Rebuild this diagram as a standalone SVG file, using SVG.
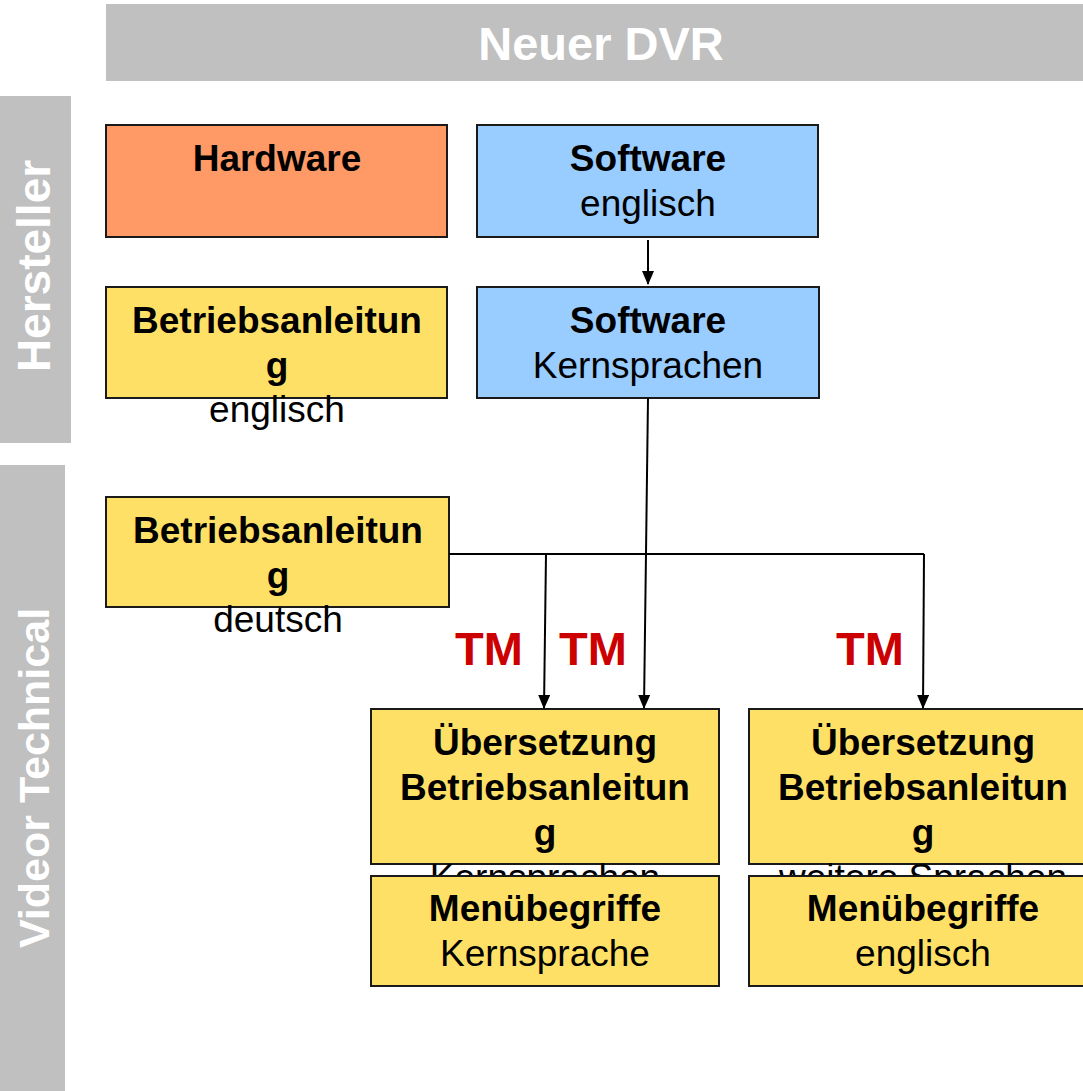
<svg xmlns="http://www.w3.org/2000/svg" width="1083" height="1091" viewBox="0 0 1083 1091">
<defs>
<style>
.band{fill:#c0c0c0}
.bandtxt{font-family:"Liberation Sans",Arial,sans-serif;font-weight:bold;fill:#ffffff;text-anchor:middle}
.box{stroke:#1a1a1a;stroke-width:2}
.orange{fill:#ff9966}
.blue{fill:#99ccff}
.yellow{fill:#ffe066}
.t{font-family:"Liberation Sans",Arial,sans-serif;font-size:37px;fill:#000;text-anchor:middle}
.b{font-weight:bold}
.tm{font-family:"Liberation Sans",Arial,sans-serif;font-size:47px;font-weight:bold;fill:#cc0000}
.conn{stroke:#000;stroke-width:2;fill:none}
</style>
<marker id="arrd" markerWidth="14" markerHeight="12" refX="13" refY="6" orient="auto" markerUnits="userSpaceOnUse" viewBox="0 0 14 12">
<path d="M0,0 L14,6 L0,12 Z" fill="#000"/>
</marker>
</defs>

<g id="header">
<rect class="band" x="106" y="4" width="977" height="77"/>
<text class="bandtxt" x="601" y="60" font-size="47">Neuer DVR</text>
</g>
<g id="lane-hersteller">
<rect class="band" x="0" y="96" width="71" height="347"/>
<text class="bandtxt" font-size="46" transform="translate(50,266) rotate(-90)">Hersteller</text>
</g>
<g id="lane-videor">
<rect class="band" x="0" y="465" width="65" height="626"/>
<text class="bandtxt" font-size="43" transform="translate(49,778) rotate(-90)">Videor Technical</text>
</g>

<g id="hardware">
<rect class="box orange" x="106" y="125" width="341" height="112"/>
<text class="t b" x="277" y="171">Hardware</text>
</g>
<g id="software-englisch">
<rect class="box blue" x="477" y="125" width="341" height="112"/>
<text class="t b" x="648" y="171">Software</text>
<text class="t" x="648" y="216">englisch</text>
</g>
<g id="betrieb-englisch">
<rect class="box yellow" x="106" y="287" width="341" height="111"/>
<text class="t b" x="277" y="333">Betriebsanleitun</text>
<text class="t b" x="277" y="378">g</text>
<text class="t" x="277" y="422">englisch</text>
</g>
<g id="software-kern">
<rect class="box blue" x="477" y="287" width="342" height="111"/>
<text class="t b" x="648" y="333">Software</text>
<text class="t" x="648" y="378">Kernsprachen</text>
</g>
<g id="betrieb-deutsch">
<rect class="box yellow" x="106" y="497" width="343" height="110"/>
<text class="t b" x="278" y="543">Betriebsanleitun</text>
<text class="t b" x="278" y="588">g</text>
<text class="t" x="278" y="632">deutsch</text>
</g>
<g id="uebers-kern">
<rect class="box yellow" x="371" y="709" width="348" height="155"/>
<text class="t b" x="545" y="755">Übersetzung</text>
<text class="t b" x="545" y="800">Betriebsanleitun</text>
<text class="t b" x="545" y="845">g</text>
<text class="t" x="545" y="890">Kernsprachen</text>
</g>
<g id="uebers-weitere">
<rect class="box yellow" x="749" y="709" width="348" height="155"/>
<text class="t b" x="923" y="755">Übersetzung</text>
<text class="t b" x="923" y="800">Betriebsanleitun</text>
<text class="t b" x="923" y="845">g</text>
<text class="t" x="923" y="890">weitere Sprachen</text>
</g>
<g id="menu-kern">
<rect class="box yellow" x="371" y="876" width="348" height="110"/>
<text class="t b" x="545" y="921">Menübegriffe</text>
<text class="t" x="545" y="966">Kernsprache</text>
</g>
<g id="menu-englisch">
<rect class="box yellow" x="749" y="876" width="348" height="110"/>
<text class="t b" x="923" y="921">Menübegriffe</text>
<text class="t" x="923" y="966">englisch</text>
</g>

<g id="connectors">
<line class="conn" x1="648" y1="240" x2="648" y2="284" marker-end="url(#arrd)"/>
<polyline class="conn" points="449,554 924,554"/>
<line class="conn" x1="546" y1="554" x2="544" y2="708" marker-end="url(#arrd)"/>
<line class="conn" x1="648" y1="398" x2="644" y2="708" marker-end="url(#arrd)"/>
<line class="conn" x1="924" y1="554" x2="923" y2="708" marker-end="url(#arrd)"/>
</g>

<g id="labels">
<text class="tm" x="455" y="665">TM</text>
<text class="tm" x="559" y="665">TM</text>
<text class="tm" x="836" y="665">TM</text>
</g>
</svg>
